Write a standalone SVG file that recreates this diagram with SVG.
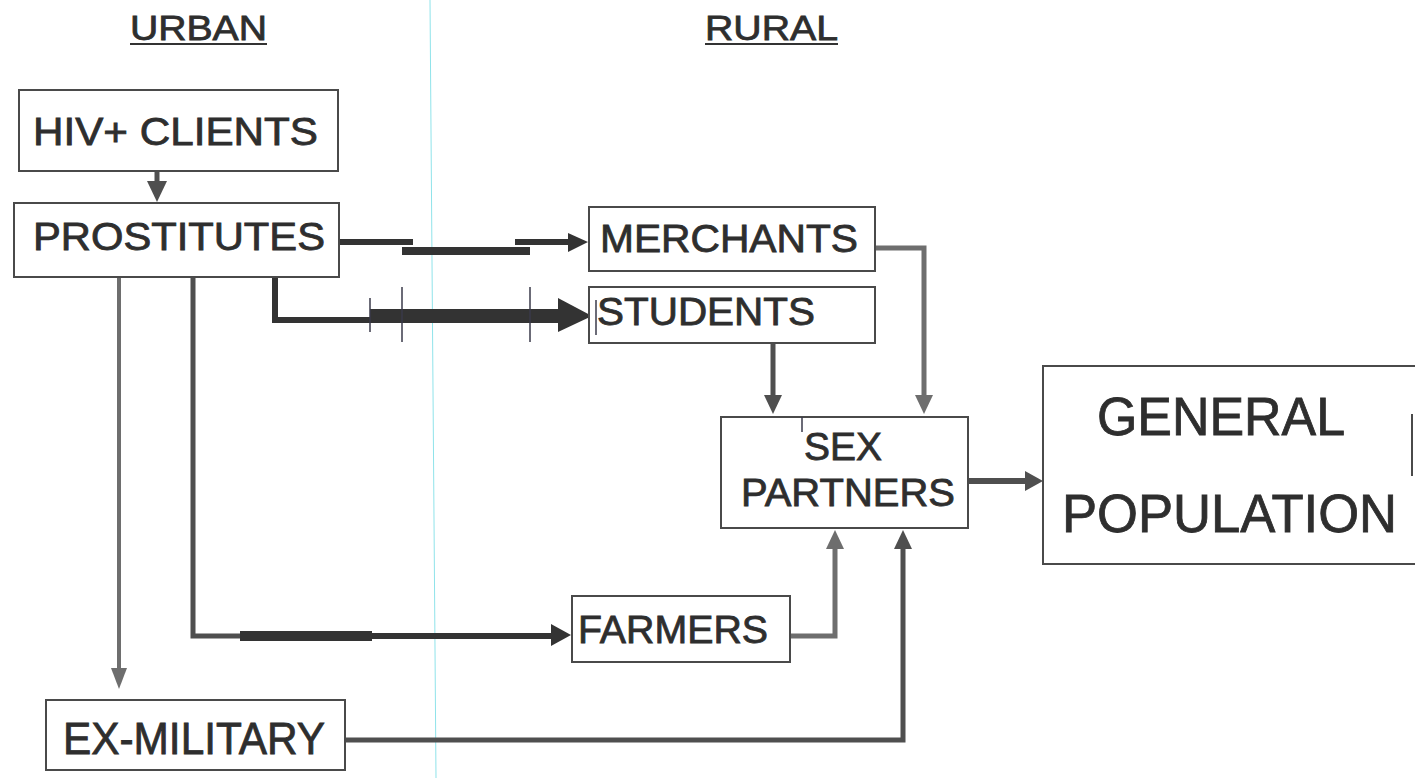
<svg xmlns="http://www.w3.org/2000/svg" width="1415" height="778" viewBox="0 0 1415 778">
<style>
  .box { fill: #ffffff; stroke: #4a4a4a; stroke-width: 2; }
  .t { font-family: "Liberation Sans", Arial, sans-serif; fill: #2e2e2e; stroke: #2e2e2e; stroke-width: 0.8; }
  .hd { font-size: 35px; }
  .n { font-size: 38px; }
  .big { font-size: 53px; }
  .c { fill: none; stroke-linejoin: miter; stroke-linecap: butt; }
  .dk { stroke: #333333; }
  .md { stroke: #4f4f4f; }
  .lt { stroke: #6e6e6e; }
  .hdk { fill: #333333; }
  .hmd { fill: #4f4f4f; }
  .hlt { fill: #6e6e6e; }
  .tick { stroke: #3a3a4a; stroke-width: 1.5; }
</style>
<rect width="1415" height="778" fill="#ffffff"/>
<line x1="430" y1="0" x2="436" y2="778" stroke="#8fe3ea" stroke-width="1"/>

<g id="headers">
  <text class="t hd" x="130" y="40" textLength="137" lengthAdjust="spacingAndGlyphs">URBAN</text>
  <line x1="130" y1="44" x2="267" y2="44" stroke="#333" stroke-width="2"/>
  <text class="t hd" x="705" y="40" textLength="133" lengthAdjust="spacingAndGlyphs">RURAL</text>
  <line x1="705" y1="44" x2="838" y2="44" stroke="#333" stroke-width="2"/>
</g>

<g id="connectors">
  <!-- HIV+ clients -> prostitutes -->
  <path class="c md" stroke-width="5" d="M157,171 V183"/>
  <polygon class="hmd" points="147,181 167,181 157,202"/>
  <!-- prostitutes -> merchants (stepped) -->
  <path class="c dk" stroke-width="6" d="M339,242 H413"/>
  <path class="c dk" stroke-width="8" d="M402,251 H530"/>
  <path class="c dk" stroke-width="6" d="M515,242 H572"/>
  <polygon class="hdk" points="568,233 588,242 568,252"/>
  <!-- prostitutes -> students -->
  <path class="c dk" stroke-width="6" d="M275,277 V320 H372"/>
  <path class="c dk" stroke-width="14" d="M370,316 H562"/>
  <polygon class="hdk" points="558,298 592,316 558,332"/>
  <line class="tick" x1="370" y1="298" x2="370" y2="332"/>
  <line class="tick" x1="402" y1="287" x2="402" y2="342"/>
  <line class="tick" x1="530" y1="287" x2="530" y2="342"/>
  <!-- prostitutes -> ex-military -->
  <path class="c lt" stroke-width="4" d="M119,277 V672"/>
  <polygon class="hlt" points="111,668 127,668 119,689"/>
  <!-- prostitutes -> farmers -->
  <path class="c md" stroke-width="5" d="M193,277 V636 H242"/>
  <path class="c dk" stroke-width="10" d="M240,636 H372"/>
  <path class="c dk" stroke-width="6" d="M370,636 H554"/>
  <polygon class="hdk" points="551,624 571,635 551,646"/>
  <!-- merchants -> sex partners -->
  <path class="c lt" stroke-width="5" d="M875,248 H924 V398"/>
  <polygon class="hlt" points="915,395 933,395 924,414"/>
  <!-- students -> sex partners -->
  <path class="c md" stroke-width="5" d="M773,343 V398"/>
  <polygon class="hmd" points="764,395 782,395 773,414"/>
  <!-- farmers -> sex partners -->
  <path class="c lt" stroke-width="5" d="M790,636 H835 V546"/>
  <polygon class="hlt" points="826,549 844,549 835,530"/>
  <!-- ex-military -> sex partners -->
  <path class="c md" stroke-width="5" d="M345,740 H903 V546"/>
  <polygon class="hmd" points="894,549 912,549 903,530"/>
  <!-- sex partners -> general population -->
  <path class="c md" stroke-width="6" d="M968,481 H1028"/>
  <polygon class="hmd" points="1025,471 1043,481 1025,491"/>
</g>

<g id="hiv-clients">
  <rect class="box" x="19" y="90" width="319" height="81"/>
  <text class="t n" x="33" y="145" textLength="285" lengthAdjust="spacingAndGlyphs">HIV+ CLIENTS</text>
</g>

<g id="prostitutes">
  <rect class="box" x="14" y="203" width="325" height="74"/>
  <text class="t n" x="33" y="250" textLength="292" lengthAdjust="spacingAndGlyphs">PROSTITUTES</text>
</g>

<g id="merchants">
  <rect class="box" x="589" y="207" width="286" height="64"/>
  <text class="t n" x="600" y="252" textLength="258" lengthAdjust="spacingAndGlyphs">MERCHANTS</text>
</g>

<g id="students">
  <rect class="box" x="589" y="287" width="286" height="56"/>
  <line class="tick" x1="596" y1="300" x2="596" y2="335"/>
  <text class="t n" x="597" y="325" textLength="218" lengthAdjust="spacingAndGlyphs">STUDENTS</text>
</g>

<g id="sex-partners">
  <rect class="box" x="721" y="417" width="247" height="111"/>
  <line class="tick" x1="802" y1="417" x2="802" y2="432"/>
  <text class="t n" x="804" y="460" textLength="78" lengthAdjust="spacingAndGlyphs">SEX</text>
  <text class="t n" x="741" y="506" textLength="214" lengthAdjust="spacingAndGlyphs">PARTNERS</text>
</g>

<g id="general-population">
  <path d="M1415,366 H1043 V564 H1415" fill="#ffffff" stroke="#4a4a4a" stroke-width="2"/>
  <line x1="1412" y1="414" x2="1412" y2="476" stroke="#4a4a4a" stroke-width="2"/>
  <text class="t big" x="1097" y="435" textLength="248" lengthAdjust="spacingAndGlyphs">GENERAL</text>
  <text class="t big" x="1062" y="532" textLength="335" lengthAdjust="spacingAndGlyphs">POPULATION</text>
</g>

<g id="farmers">
  <rect class="box" x="572" y="596" width="218" height="66"/>
  <text class="t n" x="578" y="643" textLength="190" lengthAdjust="spacingAndGlyphs">FARMERS</text>
</g>

<g id="ex-military">
  <rect class="box" x="46" y="700" width="299" height="70"/>
  <text class="t n" x="63" y="754" style="font-size:44px" textLength="262" lengthAdjust="spacingAndGlyphs">EX-MILITARY</text>
</g>
</svg>
